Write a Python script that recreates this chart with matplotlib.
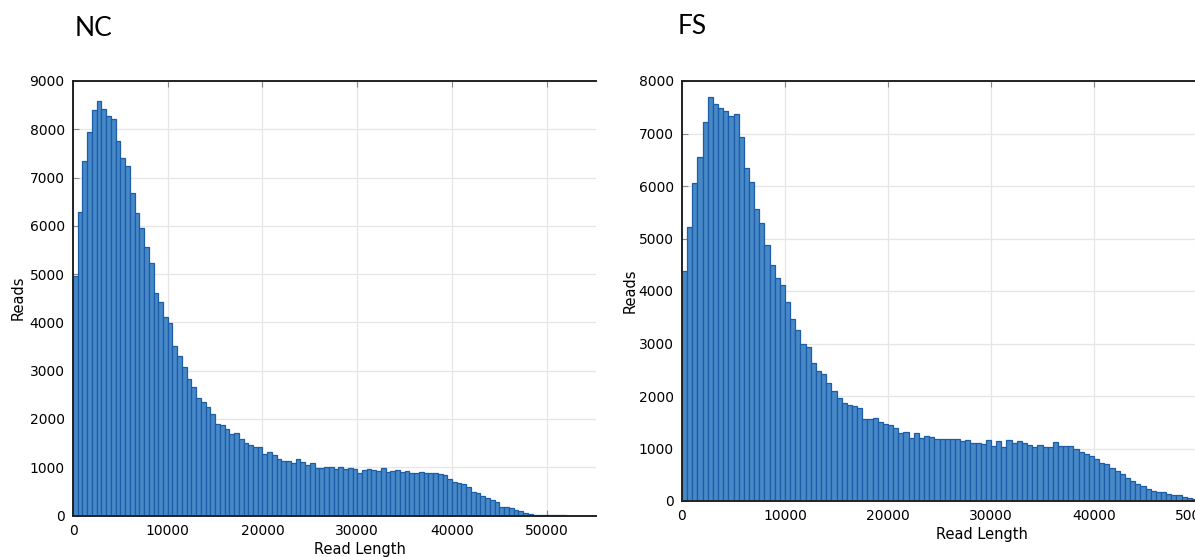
import numpy as np
import matplotlib.pyplot as plt

# read-length histograms, 500 bp bins starting at 0
BIN = 500

nc_counts = [
    4960, 6280, 7350, 7940, 8390, 8585, 8430, 8270, 8220, 7750,
    7405, 7230, 6675, 6265, 5950, 5555, 5230, 4600, 4415, 4120,
    3980, 3520, 3300, 3085, 2820, 2665, 2430, 2345, 2245, 2105,
    1890, 1870, 1795, 1690, 1710, 1575, 1505, 1450, 1420, 1410,
    1280, 1315, 1260, 1170, 1135, 1130, 1085, 1180, 1105, 1040,
    1080, 990, 990, 1010, 1010, 970, 1010, 970, 975, 970,
    885, 940, 970, 940, 925, 975, 900, 925, 940, 900,
    925, 885, 885, 905, 890, 870, 870, 865, 840, 750,
    685, 665, 645, 580, 477, 463, 408, 360, 318, 270,
    180, 166, 145, 110, 83, 55, 41, 14, 5, 5,
    20, 20, 20, 20,
]

fs_counts = [
    4376, 5212, 6048, 6555, 7220, 7695, 7555, 7492, 7430, 7334,
    7365, 6941, 6346, 6080, 5567, 5300, 4883, 4490, 4250, 4110,
    3781, 3464, 3249, 2983, 2926, 2622, 2470, 2426, 2248, 2090,
    1963, 1875, 1830, 1810, 1767, 1565, 1565, 1584, 1508, 1463,
    1444, 1400, 1298, 1317, 1202, 1298, 1196, 1234, 1215, 1177,
    1177, 1177, 1183, 1177, 1145, 1164, 1107, 1107, 1094, 1158,
    1043, 1145, 1024, 1158, 1113, 1145, 1107, 1062, 1030, 1075,
    1035, 1035, 1120, 1053, 1056, 1056, 986, 935, 897, 859,
    802, 732, 697, 625, 570, 515, 442, 390, 325, 287,
    238, 200, 175, 172, 140, 121, 110, 80, 57, 32,
]

nc_yticks = np.arange(0, 9001, 1000)
fs_yticks = np.arange(0, 8001, 1000)
xticks = [0, 10000, 20000, 30000, 40000, 50000]

W, H = 1195, 557
fig = plt.figure(figsize=(W / 100, H / 100), dpi=100)


def hist_panel(rect, counts, yticks, xmax, ypad):
    ax = fig.add_axes(rect)
    left = np.arange(len(counts)) * BIN
    ax.bar(left, counts, width=BIN, align='edge', color='#4788c7',
           edgecolor='#1c5ca8', linewidth=0.9, zorder=2)
    ax.set_xlim(0, xmax)
    ax.set_ylim(yticks[0], yticks[-1])
    ax.set_xticks(xticks)
    ax.set_yticks(yticks)
    ax.grid(True, color='#e6e6e6', linewidth=0.9)
    ax.set_axisbelow(True)
    ax.tick_params(direction='in', length=4, color='#888888', labelsize=10,
                   top=True, pad=6)
    for side in ('top', 'left', 'bottom'):
        ax.spines[side].set_color('#222222')
        ax.spines[side].set_linewidth(1.4)
    ax.spines['right'].set_visible(False)
    ax.set_xlabel('Read Length', fontsize=10.5, labelpad=3)
    ax.set_ylabel('Reads', fontsize=10.5, labelpad=ypad)
    return ax


# NC panel: 0..55200 across 73..596 px
nc = hist_panel([73 / W, 1 - 515.5 / H, 523 / W, 434.5 / H],
                nc_counts, nc_yticks, 55200, 3)
nc.xaxis.set_label_coords(0.548, -0.06)

# FS panel runs past the right edge of the figure
fs = hist_panel([682 / W, 1 - 501 / H, 600 / W, 420 / H],
                fs_counts, fs_yticks, 58250, 1)

fig.text(75 / W, 1 - 28 / H, 'NC', fontsize=19, family='Lato', va='center')
fig.text(678 / W, 1 - 26 / H, 'FS', fontsize=19, family='Lato', va='center')

fig.savefig('out.png', dpi=100)
